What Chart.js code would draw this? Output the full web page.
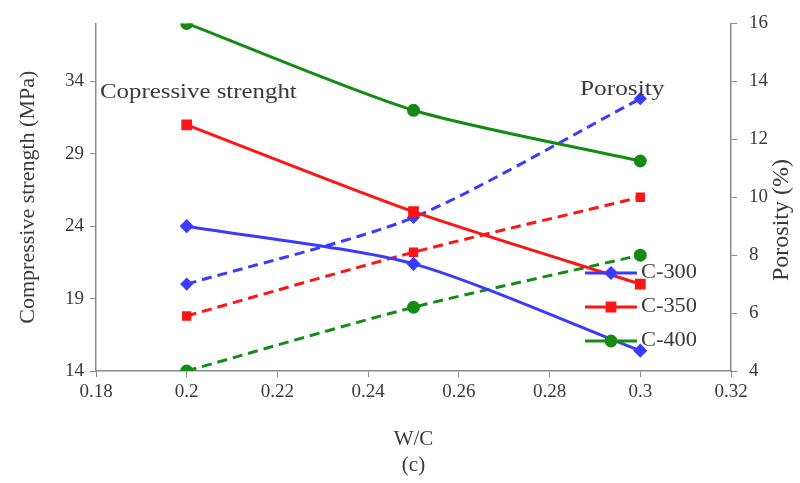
<!DOCTYPE html>
<html lang="en">
<head>
  <meta charset="UTF-8">
  <title>W/C vs compressive strength and porosity</title>
  <script src="https://cdn.jsdelivr.net/npm/chart.js"></script>
  <style>
    html, body {
      margin: 0;
      padding: 0;
      background: #ffffff;
    }
    #wrap {
      width: 800px;
      height: 483px;
    }
  </style>
</head>
<body>
<div id="wrap"><canvas id="wcChart"></canvas></div>

<script>
  // W/C ratios
  const wc = [0.2, 0.25, 0.3];

  // compressive strength (MPa), left axis
  const strength300 = [24, 21.4, 15.4];
  const strength350 = [31, 25, 20];
  const strength400 = [38, 32, 28.5];

  // porosity (%), right axis
  const porosity300 = [7, 9.3, 13.4];
  const porosity350 = [5.9, 8.1, 10];
  const porosity400 = [4, 6.2, 8];

  const mixLabels = ['C-300', 'C-350', 'C-400'];
  const leftTicks = [14, 19, 24, 29, 34];

  const blue = '#3b3bff';
  const red = '#ff1414';
  const green = '#148c14';
  const serif = "'Liberation Serif', 'Times New Roman', serif";
  const textCol = '#3a3a3a';

  function pts(ys) {
    return wc.map((x, i) => ({ x: x, y: ys[i] }));
  }

  function series(label, ys, color, shape, radius, dashed, axis) {
    return {
      label: label,
      data: pts(ys),
      yAxisID: axis,
      borderColor: color,
      backgroundColor: color,
      borderWidth: 3,
      borderDash: dashed ? [10, 6] : [],
      pointStyle: shape,
      pointRadius: radius,
      pointHoverRadius: radius,
      tension: 0.25,
      fill: false
    };
  }

  // text a bit wider than the font gives, like the source picture
  function wideText(ctx, txt, x, y, sx) {
    ctx.save();
    ctx.translate(x, y);
    ctx.scale(sx, 1);
    ctx.fillText(txt, 0, 0);
    ctx.restore();
  }

  // legend, text notes and right axis title drawn on top of the plot
  const notes = {
    id: 'notes',
    afterDraw(chart) {
      const ctx = chart.ctx;
      ctx.save();
      ctx.fillStyle = textCol;
      ctx.textBaseline = 'middle';
      ctx.font = '22px ' + serif;
      ctx.textAlign = 'left';
      wideText(ctx, 'Copressive strenght', 100, 92, 1.13);
      wideText(ctx, 'Porosity', 580, 89, 1.15);

      // right title reads bottom to top like the left one
      ctx.save();
      ctx.translate(782, 220);
      ctx.rotate(-Math.PI / 2);
      ctx.textAlign = 'center';
      ctx.font = '24px ' + serif;
      ctx.fillText('Porosity (%)', 0, 0);
      ctx.restore();

      const rows = [273, 307, 341];
      for (let i = 0; i < 3; i++) {
        const ds = chart.data.datasets[i];
        const y = rows[i];
        ctx.strokeStyle = ds.borderColor;
        ctx.lineWidth = 3;
        ctx.setLineDash([]);
        ctx.beginPath();
        ctx.moveTo(585, y);
        ctx.lineTo(637, y);
        ctx.stroke();
        ctx.fillStyle = ds.backgroundColor;
        Chart.helpers.drawPoint(ctx, {
          pointStyle: ds.pointStyle,
          radius: ds.pointRadius,
          borderWidth: 1,
          rotation: 0
        }, 611, y);
        ctx.fillStyle = textCol;
        ctx.font = '20px ' + serif;
        ctx.textAlign = 'left';
        wideText(ctx, mixLabels[i], 641, y, 1.12);
      }
      ctx.restore();
    }
  };

  const tickFont = { family: serif, size: 19 };
  const gridOpts = {
    drawOnChartArea: false,
    drawTicks: true,
    tickLength: 6,
    color: '#8a8a8a'
  };

  new Chart(document.getElementById('wcChart'), {
    type: 'line',
    data: {
      datasets: [
        series('C-300', strength300, blue, 'rectRot', 5, false, 'yL'),
        series('C-350', strength350, red, 'rect', 5.5, false, 'yL'),
        series('C-400', strength400, green, 'circle', 5, false, 'yL'),
        series('C-300 porosity', porosity300, blue, 'rectRot', 4.5, true, 'yR'),
        series('C-350 porosity', porosity350, red, 'rect', 4.5, true, 'yR'),
        series('C-400 porosity', porosity400, green, 'circle', 5, true, 'yR')
      ]
    },
    plugins: [notes],
    options: {
      responsive: true,
      maintainAspectRatio: false,
      animation: false,
      layout: { padding: { top: 14, left: 0, right: 0, bottom: 0 } },
      plugins: {
        legend: { display: false },
        tooltip: { enabled: false }
      },
      scales: {
        x: {
          type: 'linear',
          min: 0.18,
          max: 0.32,
          ticks: {
            stepSize: 0.02,
            color: textCol,
            font: tickFont,
            padding: 4,
            callback: v => String(+v.toFixed(2))
          },
          grid: gridOpts,
          border: { display: true, color: '#8a8a8a', width: 1.5 },
          title: {
            display: true,
            text: ['W/C', '(c)'],
            color: textCol,
            font: { family: serif, size: 21, lineHeight: 1.25 },
            padding: { top: 16 }
          },
          afterFit(scale) { scale.height = 112; }
        },
        yL: {
          type: 'linear',
          position: 'left',
          min: 14,
          max: 38,
          afterBuildTicks(scale) {
            scale.ticks = leftTicks.map(v => ({ value: v }));
          },
          ticks: { color: textCol, font: tickFont, padding: 6 },
          grid: gridOpts,
          border: { display: true, color: '#8a8a8a', width: 1.5 },
          title: {
            display: true,
            text: 'Compressive strength (MPa)',
            color: textCol,
            font: { family: serif, size: 22 },
            padding: { top: 15, bottom: 4 }
          },
          afterFit(scale) { scale.width = 96; }
        },
        yR: {
          type: 'linear',
          position: 'right',
          min: 4,
          max: 16,
          ticks: { stepSize: 2, color: textCol, font: tickFont, padding: 12 },
          grid: gridOpts,
          border: { display: true, color: '#8a8a8a', width: 1.5 },
          afterFit(scale) { scale.width = 69; }
        }
      }
    }
  });
</script>
</body>
</html>
